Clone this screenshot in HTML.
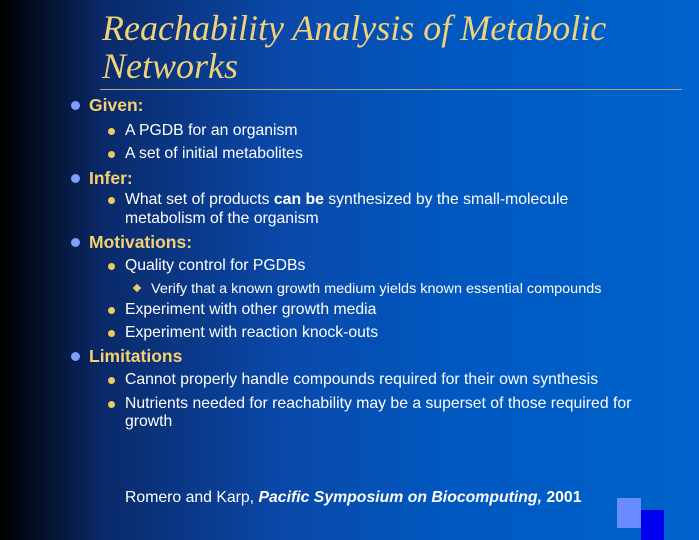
<!DOCTYPE html><html><head><style>
body{margin:0}
#s{position:relative;width:699px;height:540px;overflow:hidden;background:linear-gradient(90deg,#000 0%,#0a2a6a 15%,#0a48a8 40%,#0058c0 65%,#0062cc 100%);font-family:"Liberation Sans",sans-serif;color:#fff}
.t{position:absolute;left:102px;font-family:"Liberation Serif",serif;font-style:italic;color:#f0d27a;font-size:36px;white-space:nowrap;line-height:40px}
.l{position:absolute;white-space:nowrap;line-height:20px;transform-origin:left center}
.h{left:89px;font-weight:bold;font-size:17.5px;color:#f5d070}
.b{left:125px;font-size:16px;transform:scaleX(.985)}
.c{left:151px;font-size:14px;transform:scaleX(1.03)}
.d{position:absolute;border-radius:50%}
.d1{width:9px;height:9px;background:#7f9cff;left:71px}
.d2{width:7px;height:7px;background:#f0c860;left:108px}
.dm{position:absolute;width:6px;height:6px;background:#f0c860;transform:rotate(45deg);left:134px}
</style></head><body><div id="s">
<div class="t" style="top:8px">Reachability Analysis of Metabolic</div>
<div class="t" style="top:46px">Networks</div>
<div style="position:absolute;left:100px;top:89px;width:582px;height:1px;background:#b8a878"></div>

<div class="d d1" style="top:101px"></div><div class="l h" style="top:95px">Given:</div>
<div class="d d2" style="top:128px"></div><div class="l b" style="top:121px">A PGDB for an organism</div>
<div class="d d2" style="top:151px"></div><div class="l b" style="top:144px">A set of initial metabolites</div>
<div class="d d1" style="top:174px"></div><div class="l h" style="top:168px">Infer:</div>
<div class="d d2" style="top:197px"></div><div class="l b" style="top:190px">What set of products <b>can be</b> synthesized by the small-molecule</div>
<div class="l b" style="top:209px">metabolism of the organism</div>
<div class="d d1" style="top:238px"></div><div class="l h" style="top:232px">Motivations:</div>
<div class="d d2" style="top:263px"></div><div class="l b" style="top:256px">Quality control for PGDBs</div>
<div class="dm" style="top:285px"></div><div class="l c" style="top:278px">Verify that a known growth medium yields known essential compounds</div>
<div class="d d2" style="top:307px"></div><div class="l b" style="top:300px">Experiment with other growth media</div>
<div class="d d2" style="top:330px"></div><div class="l b" style="top:323px">Experiment with reaction knock-outs</div>
<div class="d d1" style="top:352px"></div><div class="l h" style="top:346px">Limitations</div>
<div class="d d2" style="top:377px"></div><div class="l b" style="top:370px">Cannot properly handle compounds required for their own synthesis</div>
<div class="d d2" style="top:401px"></div><div class="l b" style="top:394px">Nutrients needed for reachability may be a superset of those required for</div>
<div class="l b" style="top:412px">growth</div>
<div class="l" style="left:125px;top:488px;font-size:15.8px">Romero and Karp, <b><i>Pacific Symposium on Biocomputing,</i></b> <b>2001</b></div>
<div style="position:absolute;left:617px;top:498px;width:24px;height:30px;background:#6a8aff"></div>
<div style="position:absolute;left:641px;top:510px;width:23px;height:30px;background:#0000f0"></div>
</div></body></html>
